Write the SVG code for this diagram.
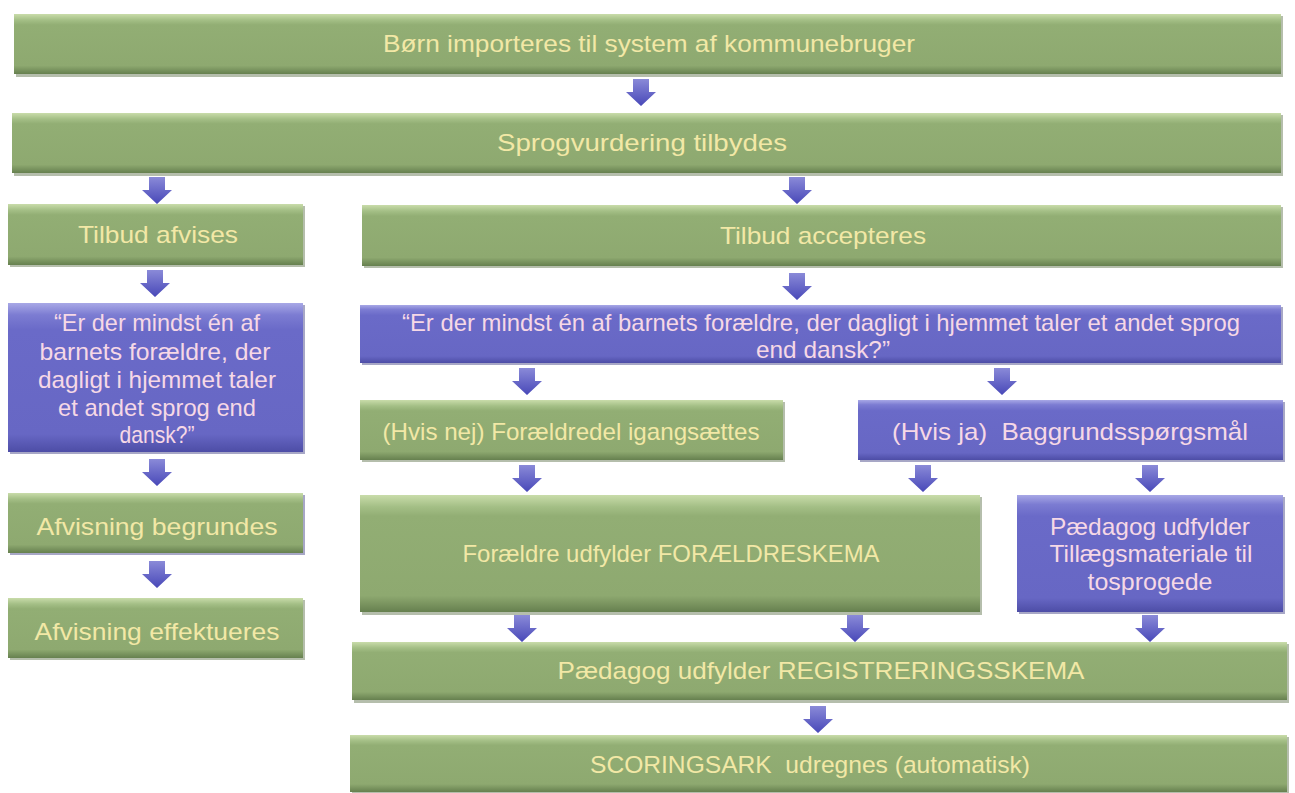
<svg xmlns="http://www.w3.org/2000/svg" width="1295" height="793" viewBox="0 0 1295 793">
<defs>
<linearGradient id="gG" x1="0" y1="0" x2="0" y2="1">
<stop offset="0" stop-color="#c9dcaa"/>
<stop offset="0.1" stop-color="#a4bf86"/>
<stop offset="0.18" stop-color="#92ae74"/>
<stop offset="0.86" stop-color="#8ea970"/>
<stop offset="1" stop-color="#66804f"/>
</linearGradient>
<linearGradient id="gB" x1="0" y1="0" x2="0" y2="1">
<stop offset="0" stop-color="#a8a8e6"/>
<stop offset="0.08" stop-color="#7c7cd2"/>
<stop offset="0.18" stop-color="#6a6ac8"/>
<stop offset="0.88" stop-color="#6767c4"/>
<stop offset="1" stop-color="#4d4da6"/>
</linearGradient>
<linearGradient id="gA" x1="0" y1="0" x2="0" y2="1">
<stop offset="0" stop-color="#8a8ad8"/>
<stop offset="1" stop-color="#4848b8"/>
</linearGradient>
<path id="arr" d="M-8,0 H8 V13 H15 L0,27 L-15,13 H-8 Z"/>
</defs>
<style>
.g{fill:url(#gG);}
.b{fill:url(#gB);}
.sh{fill:#5b6f48;opacity:0.45;}
.shb{fill:#3c3c80;opacity:0.45;}
.tg{font-family:"Liberation Sans",Arial,sans-serif;font-size:24px;fill:#f2e8a6;text-anchor:middle;}
.tb{font-family:"Liberation Sans",Arial,sans-serif;font-size:24px;fill:#f6d8e6;text-anchor:middle;}
.a{fill:url(#gA);}
</style>
<rect width="1295" height="793" fill="#ffffff"/>

<g id="connectors">
<use href="#arr" class="a" x="641" y="79"/>
<use href="#arr" class="a" x="157" y="177"/>
<use href="#arr" class="a" x="797" y="177"/>
<use href="#arr" class="a" x="155" y="270"/>
<use href="#arr" class="a" x="797" y="273"/>
<use href="#arr" class="a" x="157" y="459"/>
<use href="#arr" class="a" x="157" y="561"/>
<use href="#arr" class="a" x="527" y="368"/>
<use href="#arr" class="a" x="1002" y="368"/>
<use href="#arr" class="a" x="527" y="465"/>
<use href="#arr" class="a" x="923" y="465"/>
<use href="#arr" class="a" x="1150" y="465"/>
<use href="#arr" class="a" x="522" y="615"/>
<use href="#arr" class="a" x="855" y="615"/>
<use href="#arr" class="a" x="1150" y="615"/>
<use href="#arr" class="a" x="818" y="706"/>
</g>

<g id="n1">
<rect class="sh" x="16" y="16" width="1267" height="61"/>
<rect class="g" x="14" y="14" width="1267" height="60"/>
<text class="tg" x="649" y="52" textLength="532" lengthAdjust="spacingAndGlyphs">Børn importeres til system af kommunebruger</text>
</g>
<g id="n2">
<rect class="sh" x="14" y="115" width="1269" height="61"/>
<rect class="g" x="12" y="113" width="1269" height="60"/>
<text class="tg" x="642" y="151" textLength="290" lengthAdjust="spacingAndGlyphs">Sprogvurdering tilbydes</text>
</g>
<g id="n3">
<rect class="sh" x="10" y="206" width="295" height="61"/>
<rect class="g" x="8" y="204" width="295" height="61"/>
<text class="tg" x="158" y="243" textLength="160" lengthAdjust="spacingAndGlyphs">Tilbud afvises</text>
</g>
<g id="n4">
<rect class="sh" x="364" y="207" width="919" height="61"/>
<rect class="g" x="362" y="205" width="919" height="61"/>
<text class="tg" x="823" y="244" textLength="206" lengthAdjust="spacingAndGlyphs">Tilbud accepteres</text>
</g>
<g id="n5">
<rect class="shb" x="10" y="305" width="295" height="149"/>
<rect class="b" x="8" y="303" width="295" height="149"/>
<text class="tb" x="157" y="331" textLength="206" lengthAdjust="spacingAndGlyphs">“Er der mindst én af</text>
<text class="tb" x="155" y="360" textLength="231" lengthAdjust="spacingAndGlyphs">barnets forældre, der</text>
<text class="tb" x="157" y="388" textLength="238" lengthAdjust="spacingAndGlyphs">dagligt i hjemmet taler</text>
<text class="tb" x="157" y="416" textLength="198" lengthAdjust="spacingAndGlyphs">et andet sprog end</text>
<text class="tb" x="157" y="443" textLength="75" lengthAdjust="spacingAndGlyphs">dansk?”</text>
</g>
<g id="n6">
<rect class="shb" x="362" y="307" width="921" height="58"/>
<rect class="b" x="360" y="305" width="921" height="58"/>
<text class="tb" x="821" y="331" textLength="838" lengthAdjust="spacingAndGlyphs">“Er der mindst én af barnets forældre, der dagligt i hjemmet taler et andet sprog</text>
<text class="tb" x="823" y="358" textLength="134" lengthAdjust="spacingAndGlyphs">end dansk?”</text>
</g>
<g id="n7">
<rect class="shb" x="10" y="495" width="295" height="60"/>
<rect class="g" x="8" y="493" width="295" height="60"/>
<text class="tg" x="157" y="535" textLength="241" lengthAdjust="spacingAndGlyphs">Afvisning begrundes</text>
</g>
<g id="n8">
<rect class="sh" x="10" y="600" width="295" height="60"/>
<rect class="g" x="8" y="598" width="295" height="60"/>
<text class="tg" x="157" y="640" textLength="245" lengthAdjust="spacingAndGlyphs">Afvisning effektueres</text>
</g>
<g id="n9">
<rect class="sh" x="362" y="402" width="423" height="60"/>
<rect class="g" x="360" y="400" width="423" height="60"/>
<text class="tg" x="571" y="440" textLength="377" lengthAdjust="spacingAndGlyphs">(Hvis nej) Forældredel igangsættes</text>
</g>
<g id="n10">
<rect class="shb" x="860" y="402" width="425" height="60"/>
<rect class="b" x="858" y="400" width="425" height="60"/>
<text class="tb" x="1070" y="440" textLength="356" lengthAdjust="spacingAndGlyphs" xml:space="preserve">(Hvis ja)  Baggrundsspørgsmål</text>
</g>
<g id="n11">
<rect class="sh" x="362" y="497" width="620" height="118"/>
<rect class="g" x="360" y="495" width="620" height="117"/>
<text class="tg" x="671" y="562" textLength="417" lengthAdjust="spacingAndGlyphs">Forældre udfylder FORÆLDRESKEMA</text>
</g>
<g id="n12">
<rect class="shb" x="1019" y="497" width="266" height="117"/>
<rect class="b" x="1017" y="495" width="266" height="117"/>
<text class="tb" x="1150" y="535" textLength="200" lengthAdjust="spacingAndGlyphs">Pædagog udfylder</text>
<text class="tb" x="1151" y="562" textLength="203" lengthAdjust="spacingAndGlyphs">Tillægsmateriale til</text>
<text class="tb" x="1150" y="590" textLength="125" lengthAdjust="spacingAndGlyphs">tosprogede</text>
</g>
<g id="n13">
<rect class="sh" x="354" y="644" width="935" height="59"/>
<rect class="g" x="352" y="642" width="935" height="58"/>
<text class="tg" x="821" y="679" textLength="527" lengthAdjust="spacingAndGlyphs">Pædagog udfylder REGISTRERINGSSKEMA</text>
</g>
<g id="n14">
<rect class="sh" x="352" y="737" width="937" height="56"/>
<rect class="g" x="350" y="735" width="937" height="57"/>
<text class="tg" x="810" y="773" textLength="440" lengthAdjust="spacingAndGlyphs" xml:space="preserve">SCORINGSARK  udregnes (automatisk)</text>
</g>
</svg>
